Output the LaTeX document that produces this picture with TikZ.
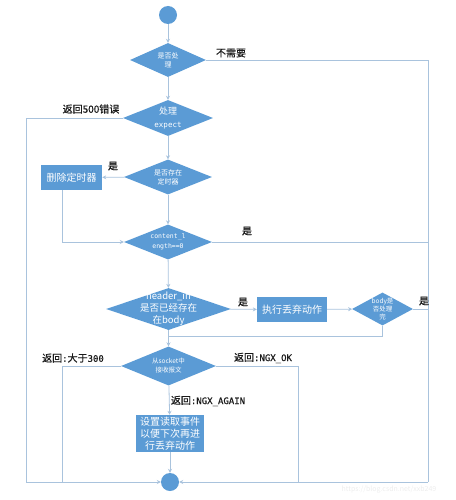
\documentclass[tikz,border=0pt]{standalone}
\usepackage{fontspec}
\setmainfont{Noto Sans CJK SC}
\newfontfamily\monof{DejaVu Sans Mono}
\newfontfamily\labfont[FakeBold=0.6]{Noto Sans CJK SC}
\newfontfamily\labmono[FakeBold=0.6]{DejaVu Sans Mono}
\usetikzlibrary{shapes.geometric,arrows.meta}
\definecolor{fillblue}{HTML}{5B9BD5}
\definecolor{linec}{HTML}{A9C3DD}
\definecolor{labc}{HTML}{1A1A1A}
\tikzset{
  x=1pt,y=-1pt,
  dec/.style={diamond,fill=fillblue,inner sep=0pt,minimum width=#1},
  proc/.style={rectangle,fill=fillblue,text=white,inner sep=0pt,align=center,font=\fontsize{10}{12}\selectfont},
  dot/.style={circle,fill=fillblue,minimum size=18pt,inner sep=0pt},
  conn/.style={draw=linec,line width=0.8pt},
  arr/.style={conn,-{Stealth[length=4pt,width=4pt]}},
  lab/.style={text=labc,font=\labfont\fontsize{10}{11}\selectfont,inner sep=1pt},
  intext/.style={text=white,align=center,inner sep=0pt},
}
\newcommand{\lm}[1]{{\labmono\fontsize{9}{11}\selectfont #1}}
\begin{document}
\begin{tikzpicture}
\useasboundingbox (0,0) rectangle (455,500);
% nodes
\node[dot] (start) at (168,15) {};
\node[dec=76pt,minimum height=34pt] (d1) at (168,60) {};
\node[intext,font=\fontsize{7}{9}\selectfont] (t1) at (d1.center) {是否处\\理};
\node[dec=90pt,minimum height=36pt] (d2) at (168,118) {};
\node[intext,font=\fontsize{9}{13}\selectfont] (t2) at (d2.center) {处理\\{\monof\fontsize{7.5}{9}\selectfont expect}};
\node[dec=88pt,minimum height=35pt] (d3) at (168,177) {};
\node[intext,font=\fontsize{7}{9}\selectfont] (t3) at (d3.center) {是否存在\\定时器};
\node[proc,minimum width=61pt,minimum height=25pt] (b1) at (71.5,177.5) {删除定时器};
\node[dec=88pt,minimum height=35pt] (d4) at (168,242) {};
\node[intext,font=\monof\fontsize{6.5}{10}\selectfont] (t4) at (d4.center) {content\_l\\ength==0};
\node[dec=125pt,minimum height=42pt] (d5) at (168.5,309) {};
\node[intext,font=\fontsize{9.5}{12}\selectfont] (t5) at (d5.center) {header\_in\\是否已经存在\\在body};
\node[proc,minimum width=70pt,minimum height=25pt] (b2) at (292,309.5) {执行丢弃动作};
\node[dec=61pt,minimum height=33pt] (d6) at (382.5,309) {};
\node[intext,font=\fontsize{6.5}{8}\selectfont] (t6) at (d6.center) {body是\\否处理\\完};
\node[dec=95pt,minimum height=39pt] (d7) at (168.5,366) {};
\node[intext,font=\fontsize{6.5}{9}\selectfont] (t7) at (d7.center) {从socket中\\接收报文};
\node[proc,minimum width=68pt,minimum height=37pt] (b3) at (170,433.5) {设置读取事件\\以便下次再进\\行丢弃动作};
\node[dot] (end) at (170,482) {};
% corner coordinates
\coordinate (rtop) at (428,60);
\coordinate (rbot) at (428,482);
\coordinate (ltop) at (26,118);
\coordinate (lbot) at (26,482);
\coordinate (mbot) at (62,482);
\coordinate (nbot) at (298,482);
\coordinate (merge) at (d5.south |- 0,336);
% connectors
\draw[arr] (start) -- (d1);
\draw[arr] (d1) -- (d2);
\draw[arr] (d2) -- (d3);
\draw[arr] (d3) -- (d4);
\draw[arr] (d3) -- (b1);
\draw[arr] (b1.south -| 62,0) |- (d4.west);
\draw[arr] (d4) -- (d5);
\draw[arr] (d5) -- (b2);
\draw[arr] (b2) -- (d6);
\draw[conn] (d5.south) -- (merge);
\draw[conn] (d6.south) |- (merge);
\draw[arr] (merge) -- (d7.north);
\draw[arr] (d7) -- (b3);
\draw[arr] (b3) -- (end);
\draw[conn] (d1.east) -- (rtop) -- (rbot);
\draw[conn] (d4.east) -- (d4.east -| rtop);
\draw[conn] (d6.east) -- (d6.east -| rtop);
\draw[arr] (rbot) -- (end);
\draw[conn] (d2.west) -- (ltop) -- (lbot);
\draw[arr] (lbot) -- (end);
\draw[conn] (d7.west) -| (mbot);
\draw[conn] (d7.east) -| (nbot);
% labels
\node[lab] (l1) at (231,53) {不需要};
\node[lab] (l2) at (91,109) {返回500错误};
\node[lab] (l3) at (113,166) {是};
\node[lab] (l4) at (247,231) {是};
\node[lab] (l5) at (243,302) {是};
\node[lab] (l6) at (424,301) {是};
\node[lab] (l7) at (73,358) {返回\lm{:}大于\lm{300}};
\node[lab] (l8) at (263,358) {返回\lm{:NGX\_OK}};
\node[lab] (l9) at (208,401) {返回\lm{:NGX\_AGAIN}};
\node[text=black!7,font=\fontsize{7}{8}\selectfont,inner sep=0pt] (wm) at (389,490) {https://blog.csdn.net/xxb249};
\end{tikzpicture}
\end{document}
